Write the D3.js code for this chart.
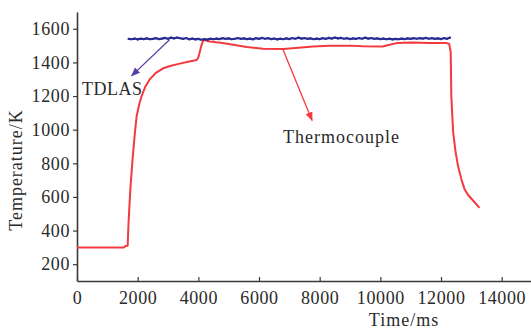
<!DOCTYPE html>
<html>
<head>
<meta charset="utf-8">
<script src="https://cdn.jsdelivr.net/npm/d3@7/dist/d3.min.js"></script>
<style>
html,body{margin:0;padding:0;background:#fff;}
svg{display:block;}
text{font-family:"Liberation Serif","Times New Roman",serif;fill:#2a2a2a;}
</style>
</head>
<body>
<svg id="chart" width="531" height="332"></svg>
<script>
// ---- data ----
const xTicks = [0, 2000, 4000, 6000, 8000, 10000, 12000, 14000];
const yTicks = [200, 400, 600, 800, 1000, 1200, 1400, 1600];

const thermoTime = [0, 1550, 1600, 1670, 1700, 1760, 1830, 1910, 1966, 2050, 2130, 2250, 2400, 2600, 2840, 3100, 3390, 3700, 3950, 4000, 4100, 4170, 4250, 4380, 4800, 5150, 5600, 6130, 6800, 7300, 7780, 8330, 9000, 9420, 10080, 10300, 10540, 11070, 11600, 12190, 12270, 12320, 12340, 12400, 12480, 12560, 12680, 12780, 12900, 13100, 13270];
const thermoTemp = [300, 300, 308, 310, 450, 650, 820, 985, 1080, 1150, 1200, 1255, 1300, 1338, 1365, 1380, 1393, 1405, 1415, 1430, 1500, 1535, 1530, 1525, 1515, 1505, 1492, 1482, 1480, 1488, 1495, 1499, 1500, 1497, 1495, 1505, 1515, 1518, 1516, 1515, 1510, 1460, 1200, 985, 870, 785, 700, 645, 610, 570, 535];

const tdlasStart = 1700, tdlasStep = 100;
const tdlasTemp = [1540, 1538, 1542, 1537, 1541, 1539, 1543, 1538, 1540, 1544, 1539, 1542, 1546, 1541, 1547, 1543, 1548, 1544, 1540, 1545, 1538, 1542, 1537, 1540, 1535, 1539, 1536, 1541, 1538, 1542, 1539, 1544, 1540, 1543, 1538, 1541, 1545, 1540, 1543, 1539, 1542, 1538, 1544, 1540, 1546, 1541, 1544, 1539, 1542, 1537, 1541, 1538, 1543, 1539, 1545, 1541, 1547, 1542, 1545, 1540, 1543, 1538, 1542, 1539, 1544, 1540, 1546, 1542, 1548, 1543, 1546, 1541, 1544, 1539, 1543, 1540, 1545, 1541, 1547, 1542, 1545, 1540, 1543, 1539, 1542, 1538, 1541, 1537, 1540, 1538, 1542, 1539, 1543, 1540, 1544, 1541, 1545, 1542, 1546, 1541, 1544, 1540, 1543, 1539, 1545, 1541, 1548];

const labels = {x: "Time/ms", y: "Temperature/K", a: "TDLAS", b: "Thermocouple"};

// ---- layout ----
const svg = d3.select("#chart");
const x = d3.scaleLinear().domain([0, 15000]).range([77, 532]);
const y = d3.scaleLinear().domain([100, 1700]).range([281, 12]);
const axisColor = "#3a3a3a";

// axes
const gx = svg.append("g").attr("transform", "translate(0,281)")
  .call(d3.axisBottom(x).tickValues(xTicks).tickSizeInner(-4).tickSizeOuter(0).tickPadding(10).tickFormat(d3.format("d")));
const gy = svg.append("g").attr("transform", "translate(77,0)")
  .call(d3.axisLeft(y).tickValues(yTicks).tickSizeInner(4).tickSizeOuter(0).tickPadding(3).tickFormat(d3.format("d")));
[gx, gy].forEach(g => {
  g.select(".domain").attr("stroke", axisColor).attr("stroke-width", 1.6);
  g.selectAll(".tick line").attr("stroke", axisColor).attr("stroke-width", 1.2);
  g.selectAll(".tick text").attr("font-family", "Liberation Serif").attr("font-size", 18).attr("fill", "#2a2a2a").attr("letter-spacing", 0.6);
});

// axis titles
svg.append("text").attr("x", 404).attr("y", 326).attr("text-anchor", "middle")
  .attr("font-size", 18).attr("letter-spacing", 1).text(labels.x);
svg.append("text").attr("transform", "translate(22,170) rotate(-90)").attr("text-anchor", "middle")
  .attr("font-size", 18).attr("letter-spacing", 1).text(labels.y);

// lines
const thermo = thermoTime.map((t, i) => [t, thermoTemp[i]]);
const tdlas = tdlasTemp.map((v, i) => [tdlasStart + i * tdlasStep, v]);
const line = d3.line().x(d => x(d[0])).y(d => y(d[1]));

svg.append("path").datum(thermo).attr("d", line)
  .attr("fill", "none").attr("stroke", "#f23a3f").attr("stroke-width", 2).attr("stroke-linejoin", "round");
svg.append("path").datum(tdlas).attr("d", line)
  .attr("fill", "none").attr("stroke", "#2b2b95").attr("stroke-width", 2.2);
svg.append("g").selectAll("circle").data(tdlas).join("circle")
  .attr("cx", d => x(d[0])).attr("cy", d => y(d[1])).attr("r", 1.1).attr("fill", "#2b2b95");

// arrows
const defs = svg.append("defs");
function marker(id, color) {
  defs.append("marker").attr("id", id).attr("viewBox", "0 0 10 10").attr("refX", 9).attr("refY", 5)
    .attr("markerWidth", 7).attr("markerHeight", 7).attr("orient", "auto")
    .append("path").attr("d", "M0,1L10,5L0,9Z").attr("fill", color);
}
marker("ma", "#5a3fa8");
marker("mb", "#f23a3f");
svg.append("line").attr("x1", x(3050)).attr("y1", y(1535)).attr("x2", x(1800)).attr("y2", y(1320))
  .attr("stroke", "#5a3fa8").attr("stroke-width", 1.3).attr("marker-end", "url(#ma)");
svg.append("line").attr("x1", x(6780)).attr("y1", y(1482)).attr("x2", x(7750)).attr("y2", y(1055))
  .attr("stroke", "#f23a3f").attr("stroke-width", 1.3).attr("marker-end", "url(#mb)");

// annotation labels
svg.append("text").attr("x", 82).attr("y", 95).attr("font-size", 18).attr("letter-spacing", 0.5).text(labels.a);
svg.append("text").attr("x", 283).attr("y", 143).attr("font-size", 18).attr("letter-spacing", 1).text(labels.b);
</script>
</body>
</html>
